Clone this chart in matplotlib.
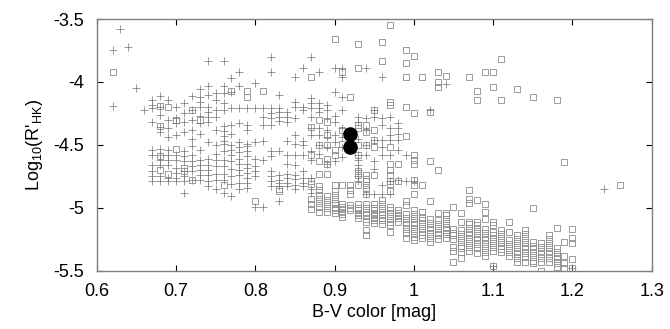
import matplotlib
matplotlib.use("Agg")
import matplotlib.pyplot as plt
from matplotlib.ticker import FuncFormatter

plt.rcParams['font.family'] = ['Liberation Sans', 'DejaVu Sans']
plt.rcParams['mathtext.default'] = 'regular'
plt.rcParams['axes.unicode_minus'] = False

# "+" stars, one B-V column per entry
plus_bv = [0.62, 0.63, 0.64, 0.65, 0.66, 0.67, 0.68, 0.69, 0.70, 0.71, 0.72, 0.73,
           0.74, 0.75, 0.76, 0.77, 0.78, 0.79, 0.80, 0.81, 0.82, 0.83, 0.84, 0.85,
           0.86, 0.87, 0.88, 0.89, 0.90, 0.91, 0.93, 0.94, 0.95, 0.96, 0.97, 0.98,
           0.99, 1.00, 1.02, 1.04, 1.10, 1.20, 1.24]
plus_logr = [
    [-3.75, -4.19],
    [-3.58],
    [-3.72],
    [-4.05],
    [-4.22],
    [-4.14, -4.18, -4.21, -4.32, -4.54, -4.58, -4.66, -4.71, -4.75, -4.79],
    [-4.11, -4.20, -4.26, -4.36, -4.40, -4.53, -4.58, -4.62, -4.66, -4.75, -4.79],
    [-4.14, -4.30, -4.37, -4.44, -4.54, -4.58, -4.62, -4.66, -4.76, -4.79],
    [-4.20, -4.29, -4.33, -4.42, -4.58, -4.62, -4.68, -4.72, -4.76, -4.79],
    [-4.17, -4.25, -4.32, -4.40, -4.55, -4.59, -4.63, -4.71, -4.75, -4.79, -4.88],
    [-4.11, -4.22, -4.30, -4.38, -4.45, -4.51, -4.58, -4.63, -4.67, -4.71, -4.78],
    [-4.06, -4.12, -4.16, -4.20, -4.27, -4.33, -4.41, -4.54, -4.62, -4.66, -4.70, -4.74, -4.78],
    [-3.83, -4.03, -4.10, -4.20, -4.24, -4.28, -4.32, -4.48, -4.61, -4.66, -4.70, -4.74, -4.79, -4.83],
    [-4.09, -4.14, -4.22, -4.28, -4.38, -4.50, -4.57, -4.62, -4.67, -4.73, -4.78, -4.85],
    [-3.83, -4.03, -4.09, -4.17, -4.22, -4.35, -4.39, -4.43, -4.47, -4.49, -4.55, -4.62, -4.67, -4.73, -4.78, -4.88],
    [-3.97, -4.08, -4.21, -4.34, -4.41, -4.50, -4.54, -4.58, -4.63, -4.69, -4.75, -4.81, -4.91],
    [-3.92, -4.03, -4.21, -4.33, -4.48, -4.52, -4.56, -4.61, -4.65, -4.70, -4.74, -4.80, -4.85],
    [-4.21, -4.34, -4.38, -4.49, -4.51, -4.55, -4.59, -4.65, -4.68, -4.72, -4.76, -4.80, -4.84],
    [-4.01, -4.21, -4.48, -4.61, -4.67, -4.71, -4.75, -4.99],
    [-4.21, -4.28, -4.34, -4.47, -4.62, -4.99],
    [-3.80, -3.92, -4.21, -4.25, -4.29, -4.34, -4.55, -4.59, -4.71, -4.75, -4.79, -4.83],
    [-4.10, -4.21, -4.24, -4.28, -4.31, -4.55, -4.74, -4.78, -4.80, -4.83, -4.95],
    [-4.24, -4.28, -4.32, -4.47, -4.58, -4.65, -4.73, -4.76, -4.80, -4.83],
    [-3.96, -4.16, -4.20, -4.29, -4.42, -4.49, -4.58, -4.66, -4.74, -4.77, -4.82, -4.85],
    [-3.89, -4.20, -4.22, -4.47, -4.50, -4.58, -4.71, -4.76, -4.80, -4.83],
    [-3.80, -4.13, -4.17, -4.21, -4.28, -4.37, -4.42, -4.55, -4.62, -4.76, -4.85, -4.88],
    [-3.92, -4.17, -4.21, -4.24, -4.37, -4.42, -4.50, -4.57],
    [-4.18, -4.22, -4.29, -4.38, -4.44, -4.52, -4.65],
    [-3.89, -4.08, -4.27, -4.32, -4.42, -4.48, -4.63],
    [-3.89, -3.96, -4.12, -4.22, -4.37, -4.44, -4.52, -4.60],
    [-4.28, -4.32, -4.45, -4.58, -4.62, -4.66, -4.70, -4.75, -4.79],
    [-3.89, -4.29, -4.38, -4.50, -4.58, -4.89],
    [-4.22, -4.28, -4.46, -4.63, -4.69, -4.89],
    [-3.96, -4.29, -4.34, -4.46, -4.52, -4.58, -4.82, -4.89],
    [-4.28, -4.37, -4.42, -4.46, -4.58, -4.79, -4.89],
    [-4.33, -4.37, -4.41, -4.46, -4.54, -4.78],
    [-4.58, -4.79],
    [-4.79],
    [-4.22],
    [-4.02],
    [-5.46],
    [-5.48],
    [-4.85],
]

# open squares
sq_bv = [0.62, 0.68, 0.69, 0.70, 0.71, 0.72, 0.73, 0.76, 0.77, 0.79, 0.80, 0.81,
         0.83, 0.87, 0.88, 0.89, 0.90, 0.91, 0.92, 0.93, 0.94, 0.95, 0.96, 0.97,
         0.98, 0.99, 1.00, 1.01, 1.02, 1.03, 1.04, 1.05, 1.06, 1.07, 1.08, 1.09,
         1.10, 1.11, 1.12, 1.13, 1.14, 1.15, 1.16, 1.17, 1.18, 1.19, 1.20, 1.26]
sq_logr = [
    [-3.92],
    [-4.19, -4.35, -4.59, -4.70],
    [-4.20, -4.73],
    [-4.30, -4.53],
    [-4.68, -4.71],
    [-4.22, -4.78],
    [-4.30],
    [-4.82],
    [-4.07],
    [-4.07, -4.12],
    [-4.95],
    [-4.07],
    [-4.85, -4.87],
    [-3.96, -4.36, -4.58, -4.79, -4.81, -4.93, -4.97, -5.01],
    [-4.30, -4.50, -4.63, -4.73, -4.83, -4.86, -4.90, -4.93, -4.96, -4.99, -5.03],
    [-4.32, -4.42, -4.50, -4.61, -4.65, -4.73, -4.91, -4.94, -4.97, -5.00, -5.03],
    [-3.66, -4.54, -4.58, -4.82, -4.87, -4.90, -4.93, -4.96, -5.00, -5.02, -5.04],
    [-3.92, -4.38, -4.49, -4.82, -4.97, -4.99, -5.01, -5.03, -5.05, -5.07],
    [-4.12, -4.82, -4.86, -4.89, -4.98, -5.00, -5.02],
    [-3.70, -3.89, -4.34, -4.37, -4.50, -4.58, -4.71, -4.74, -4.82, -4.97, -5.00, -5.02, -5.04, -5.06, -5.08],
    [-4.34, -4.40, -4.50, -4.74, -4.77, -4.79, -4.82, -4.85, -4.89, -4.97, -5.00, -5.03, -5.06, -5.09, -5.11, -5.18, -5.22],
    [-4.22, -4.38, -4.46, -4.52, -4.74, -4.97, -5.00, -5.02, -5.04, -5.06, -5.08, -5.10, -5.12],
    [-3.68, -3.83, -4.94, -4.97, -5.00, -5.03, -5.06, -5.08, -5.10, -5.13],
    [-3.55, -4.16, -4.18, -4.52, -4.65, -4.70, -4.74, -4.79, -4.81, -4.87, -4.99, -5.02, -5.05, -5.08, -5.11, -5.14, -5.19],
    [-4.65, -4.79, -5.02, -5.04, -5.06, -5.08, -5.11],
    [-3.75, -3.85, -3.96, -4.20, -4.43, -4.95, -4.98, -5.05, -5.08, -5.11, -5.14, -5.17, -5.20, -5.24],
    [-3.79, -4.25, -4.58, -4.62, -4.65, -4.78, -4.82, -4.89, -5.02, -5.05, -5.08, -5.11, -5.14, -5.17, -5.20, -5.23, -5.26],
    [-3.96, -4.82, -5.03, -5.07, -5.10, -5.13, -5.16, -5.19, -5.22, -5.24],
    [-4.24, -4.63, -4.95, -5.09, -5.12, -5.15, -5.18, -5.21, -5.24, -5.27],
    [-3.92, -4.00, -4.04, -4.70, -5.04, -5.10, -5.13, -5.16, -5.19, -5.22, -5.25],
    [-3.95, -5.04, -5.06, -5.09, -5.12, -5.15, -5.18, -5.21, -5.24],
    [-4.99, -5.17, -5.20, -5.22, -5.25, -5.31, -5.34, -5.43],
    [-5.04, -5.11, -5.18, -5.21, -5.24, -5.27, -5.30, -5.32, -5.35, -5.40],
    [-3.96, -4.86, -4.93, -4.96, -5.11, -5.13, -5.16, -5.19, -5.22, -5.25, -5.28, -5.31, -5.34],
    [-4.07, -4.14, -4.94, -5.11, -5.14, -5.17, -5.20, -5.23, -5.26, -5.29, -5.32, -5.36],
    [-3.92, -4.97, -5.03, -5.09, -5.17, -5.20, -5.23, -5.26, -5.29, -5.32, -5.35, -5.38],
    [-3.92, -4.04, -5.11, -5.14, -5.19, -5.22, -5.25, -5.28, -5.31, -5.34, -5.46],
    [-3.82, -4.14, -5.18, -5.21, -5.24, -5.27, -5.30, -5.33, -5.35],
    [-5.11, -5.19, -5.26, -5.29, -5.32, -5.35, -5.38],
    [-4.06, -5.22, -5.25, -5.28, -5.31, -5.34, -5.37, -5.40, -5.43],
    [-5.18, -5.21, -5.24, -5.27, -5.30, -5.33, -5.36, -5.39, -5.43],
    [-4.12, -5.00, -5.27, -5.30, -5.33, -5.36, -5.39, -5.42, -5.44],
    [-5.28, -5.31, -5.34, -5.37, -5.40, -5.43, -5.50],
    [-5.22, -5.25, -5.28, -5.31, -5.34, -5.37, -5.40, -5.43],
    [-4.14, -5.16, -5.32, -5.35, -5.38, -5.41, -5.44, -5.47],
    [-4.64, -5.27, -5.38, -5.44, -5.48],
    [-5.17, -5.24, -5.28, -5.41, -5.48],
    [-4.82],
]

# the two highlighted stars
star_bv = [0.92, 0.92]
star_logr = [-4.41, -4.515]


def flatten(cols, vals):
    xs, ys = [], []
    for c, v in zip(cols, vals):
        for y in v:
            xs.append(c)
            ys.append(y)
    return xs, ys


fig = plt.figure(figsize=(6.7, 3.29), dpi=100)
ax = fig.add_axes([0.1443, 0.1772, 0.8284, 0.765])

sx, sy = flatten(sq_bv, sq_logr)
px, py = flatten(plus_bv, plus_logr)

ax.plot(sx, sy, ls='none', marker='s', ms=4.6, mfc='none', mec='0.55', mew=0.6)
ax.plot(px, py, ls='none', marker='+', ms=5.2, mec='0.45', mew=0.5)
ax.plot(star_bv, star_logr, ls='none', marker='o', ms=9.5, color='black')

ax.set_xlim(0.6, 1.3)
ax.set_ylim(-5.5, -3.5)
ax.set_xticks([0.6, 0.7, 0.8, 0.9, 1.0, 1.1, 1.2, 1.3])
ax.set_yticks([-5.5, -5, -4.5, -4, -3.5])
fmt = FuncFormatter(lambda v, p: f"{v:g}")
ax.xaxis.set_major_formatter(fmt)
ax.yaxis.set_major_formatter(fmt)

for s in ax.spines.values():
    s.set_color('0.5')
    s.set_linewidth(1.0)
ax.tick_params(direction='in', length=4, width=0.8, color='black',
               top=True, right=True, labelsize=13)
ax.tick_params(axis='x', pad=9)
ax.tick_params(axis='y', pad=9)

ax.set_xlabel("B-V color [mag]", fontsize=13, labelpad=3)
ax.set_ylabel("Log$_{10}$(R$'_{HK}$)", fontsize=13, labelpad=6)

fig.savefig("out.png", dpi=100)
